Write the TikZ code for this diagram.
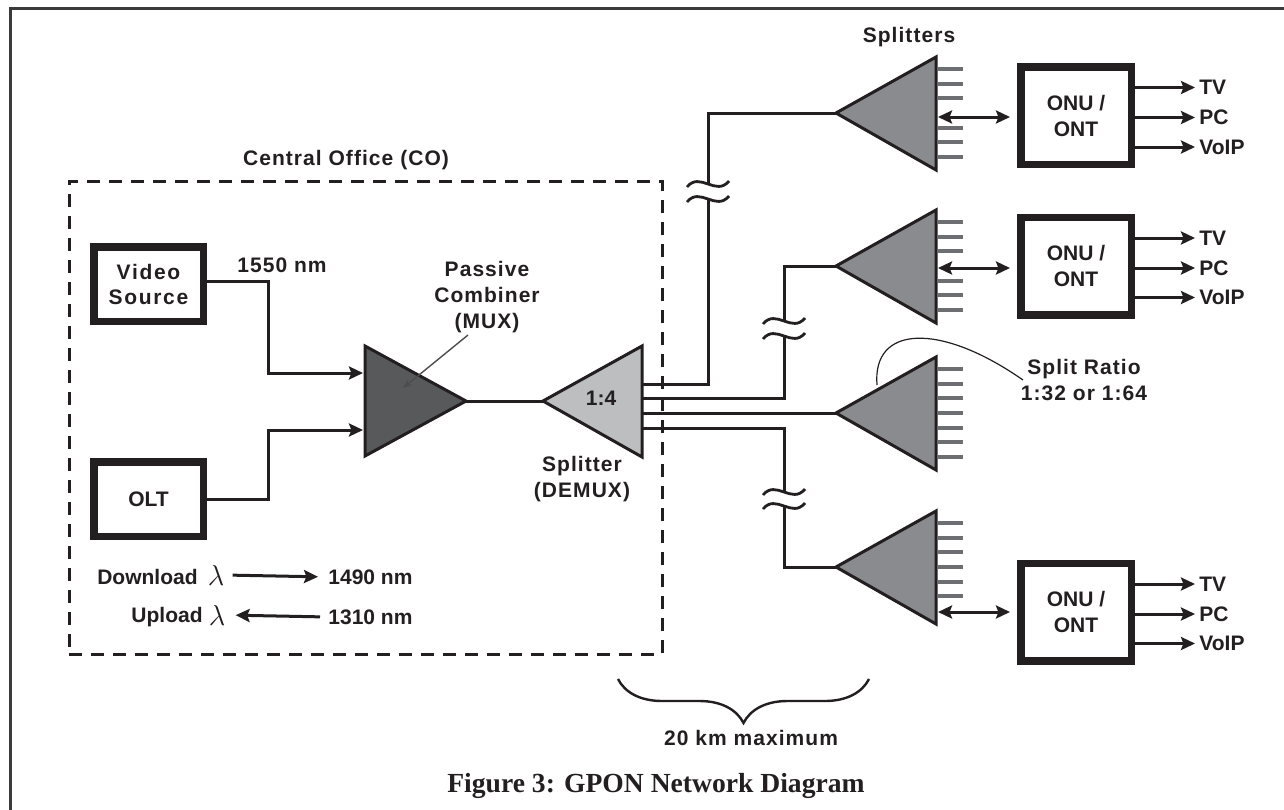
\documentclass[tikz,border=0pt]{standalone}
\usepackage{fontspec}
\setmainfont{Liberation Sans}
\newfontfamily\capfont{Liberation Serif}
\usetikzlibrary{arrows.meta,decorations.pathreplacing,calc}
\definecolor{ink}{HTML}{231F20}
\definecolor{framegray}{HTML}{3A3A3A}
\definecolor{muxgray}{HTML}{58595B}
\definecolor{demuxgray}{HTML}{BCBEC0}
\definecolor{splgray}{HTML}{8A8B8E}
\definecolor{stubgray}{HTML}{6D6E71}
\tikzset{
  tw/.style={text=ink, font=\bfseries\fontsize{10.5}{13}\selectfont, inner sep=0pt, align=center},
  tsp/.style={tw, font=\bfseries\fontsize{10.5}{13}\selectfont\addfontfeatures{LetterSpace=5}},
  thickbox/.style={draw=ink, line width=3.75pt, fill=white, inner sep=0pt, align=center, text=ink},
  cobox/.style={draw=ink, line width=1.5pt, dash pattern=on 6.5pt off 4.5pt, inner sep=0pt},
  fiber/.style={draw=ink, line width=1.5pt},
  tri/.style={draw=ink, line width=1.5pt, line join=miter},
  stub/.style={draw=stubgray, line width=1.6pt},
  arr/.style={fiber, -{Stealth[length=7pt,width=6.5pt,inset=1.2pt]}},
  dblarr/.style={fiber, {Stealth[length=7pt,width=6.5pt,inset=1.2pt]}-{Stealth[length=7pt,width=6.5pt,inset=1.2pt]}},
  pointer/.style={draw=ink!80, line width=0.7pt, -{Stealth[length=4.5pt,width=3.5pt]}},
  brk/.pic={\draw[draw=ink, line width=1.4pt] (-21,3) .. controls (-8,-13) and (8,13) .. (21,-3);}
}
\begin{document}
\begin{tikzpicture}[x=0.5pt,y=-0.5pt]
\useasboundingbox (0,0) rectangle (1284,809);
% outer frame
\draw[draw=framegray, line width=1.5pt] (10,830) -- (10,8) -- (1300,8);

% central office
\node[cobox, minimum width=296.5pt, minimum height=236.5pt] (co) at (365.5,417.5) {};
\node[tsp] (colbl) at (346,160) {Central Office (CO)};

% sources
\node[thickbox, minimum width=54.75pt, minimum height=37.25pt, font=\bfseries\fontsize{10.5}{12.5}\selectfont\addfontfeatures{LetterSpace=8}] (video) at (148.5,284) {Video\\Source};
\node[thickbox, minimum width=54.75pt, minimum height=37.25pt, font=\bfseries\fontsize{10.5}{13}\selectfont] (olt) at (148.5,499) {OLT};
\node[tsp] (l1550) at (282,265) {1550 nm};

% combiner
\coordinate (muxTL) at (365,346);
\coordinate (muxBL) at (365,456);
\coordinate (muxT) at (466,401);
\draw[tri, fill=muxgray] (muxTL) -- (muxT) -- (muxBL) -- cycle;
\coordinate (muxIn1) at (363,373);
\coordinate (muxIn2) at (363,430);
\coordinate (jv) at (268,373);
\coordinate (jo) at (268,430);
\draw[arr] (video.east |- 0,281) -| (jv) -- (muxIn1);
\draw[arr] (olt.east) -| (jo) -- (muxIn2);
\node[tsp] (pclbl) at (487,297) {Passive\\Combiner\\(MUX)};
\coordinate (pcA) at (468,335);
\coordinate (pcB) at (403,388);
\draw[pointer] (pcA) -- (pcB);

% demux
\coordinate (dmT) at (543,401);
\coordinate (dmTR) at (642,346);
\coordinate (dmBR) at (642,457);
\draw[fiber] (muxT) -- (dmT);
\draw[tri, fill=demuxgray] (dmTR) -- (dmT) -- (dmBR) -- cycle;
\node[tw] (ratio14) at (601,398) {1:4};
\node[tsp] (dmlbl) at (582,479) {Splitter\\(DEMUX)};

% splitters
\node[tsp] (spllbl) at (909,37) {Splitters};
\foreach \n/\t/\lst in {1/113/{-44,-29,-15,15,29,44}, 2/266/{-44,-29,-15,15,29,44}, 3/413/{-44,-29,-15,0,15,29,44}, 4/567/{-44,-29,-15,0,15,29}}{
  \coordinate (s\n) at (836,\t);
  \draw[tri, fill=splgray] (936,\t-56) -- (s\n) -- (936,\t+57) -- cycle;
  \foreach \o in \lst {\draw[stub] (938,\t+\o) -- (963,\t+\o);}
}

% demux outputs
\coordinate (d1) at (643,384);
\coordinate (d2) at (643,398);
\coordinate (d3) at (643,413);
\coordinate (d4) at (643,428);
\coordinate (b1a) at (708,184);
\coordinate (b1b) at (708,199);
\coordinate (b2a) at (784,321);
\coordinate (b2b) at (784,336);
\coordinate (b4a) at (784,492);
\coordinate (b4b) at (784,506);
\draw[fiber] (d1) -| (b1b);
\draw[fiber] (b1a) |- (s1);
\draw[fiber] (d2) -| (b2b);
\draw[fiber] (b2a) |- (s2);
\draw[fiber] (d3) -- (s3);
\draw[fiber] (d4) -| (b4a);
\draw[fiber] (b4b) |- (s4);
\foreach \b in {b1a,b1b,b2a,b2b,b4a,b4b} {\pic at (\b) {brk};}

% split ratio
\node[tsp] (srlbl) at (1084,380) {Split Ratio\\1:32 or 1:64};
\coordinate (srA) at (877,385);
\coordinate (srB) at (1023,380);
\draw[draw=ink, line width=0.6pt] (srA) .. controls (872,325) and (940,322) .. (srB);

% ONUs
\foreach \n/\c/\a in {1/115.5/117, 2/266/268, 3/612/612}{
  \node[thickbox, minimum width=55.25pt, minimum height=48.75pt, font=\bfseries\fontsize{10.5}{13}\selectfont] (onu\n) at (1076,\c) {ONU /\\ONT};
  \coordinate (e\n) at (938,\a);
  \draw[dblarr, shorten >=3.5pt] (e\n) -- (e\n -| onu\n.west);
  \node[tw, anchor=west] (tv\n) at (1199,\c-28) {TV};
  \node[tw, anchor=west] (pc\n) at (1199,\c+2) {PC};
  \node[tw, anchor=west] (voip\n) at (1199,\c+31.5) {VoIP};
  \draw[arr, shorten >=2pt] (onu\n.east |- tv\n.west) -- (tv\n.west);
  \draw[arr, shorten >=2pt] (onu\n.east |- pc\n.west) -- (pc\n.west);
  \draw[arr, shorten >=2pt] (onu\n.east |- voip\n.west) -- (voip\n.west);
}

% wavelengths
\node[tw, anchor=east] (dl) at (198,577) {Download};
\node[text=ink, inner sep=0pt, font=\fontsize{14}{14}\selectfont] (lam1) at (216,575) {$\lambda$};
\node[tw, anchor=west] (n1490) at (328,577) {1490 nm};
\draw[arr, shorten <=4pt, shorten >=5pt] (lam1.east) -- (n1490.west);
\node[tw, anchor=east] (ul) at (203,617) {Upload};
\node[text=ink, inner sep=0pt, font=\fontsize{14}{14}\selectfont] (lam2) at (217,615) {$\lambda$};
\node[tw, anchor=west] (n1310) at (328,617) {1310 nm};
\draw[arr, shorten >=5pt, shorten <=4pt] (n1310.west) -- (lam2.east);

% distance brace
\coordinate (brL) at (618,679);
\coordinate (brR) at (869,679);
\draw[draw=ink, line width=1.2pt, decorate, decoration={brace, mirror, amplitude=22pt}] (brL) -- (brR);
\node[tsp] (km) at (751,738) {20 km maximum};

% caption
\node[text=ink, inner sep=0pt, font=\capfont\bfseries\fontsize{13.8}{16}\selectfont] (cap) at (656,786) {Figure 3: GPON Network Diagram};
\end{tikzpicture}
\end{document}
